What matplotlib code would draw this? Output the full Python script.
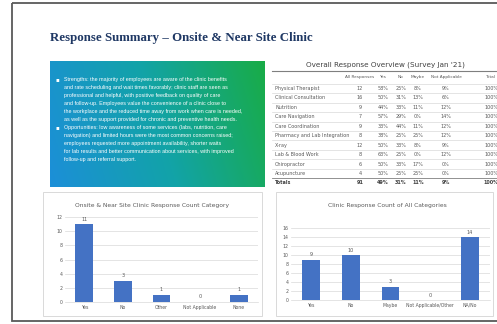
import numpy as np
import matplotlib.pyplot as plt
from matplotlib.colors import LinearSegmentedColormap
from matplotlib.patches import Rectangle

W, H = 497, 324

title = "Response Summary \u2013 Onsite & Near Site Clinic"

bullet_1 = [
    "Strengths: the majority of employees are aware of the clinic benefits",
    "and rate scheduling and wait times favorably; clinic staff are seen as",
    "professional and helpful, with positive feedback on quality of care",
    "and follow-up. Employees value the convenience of a clinic close to",
    "the workplace and the reduced time away from work when care is needed,",
    "as well as the support provided for chronic and preventive health needs.",
]
bullet_2 = [
    "Opportunities: low awareness of some services (labs, nutrition, care",
    "navigation) and limited hours were the most common concerns raised;",
    "employees requested more appointment availability, shorter waits",
    "for lab results and better communication about services, with improved",
    "follow-up and referral support.",
]

table_title = "Overall Response Overview (Survey Jan '21)"
col_heads = ["All Responses", "Yes", "No", "Maybe", "Not Applicable", "Total"]
row_names = ["Physical Therapist", "Clinical Consultation", "Nutrition",
             "Care Navigation", "Care Coordination", "Pharmacy and Lab Integration",
             "X-ray", "Lab & Blood Work", "Chiropractor", "Acupuncture"]
responses = [12, 16, 9, 7, 9, 8, 12, 8, 6, 4]
yes_pct = [58, 50, 44, 57, 33, 38, 50, 63, 50, 50]
no_pct = [25, 31, 33, 29, 44, 25, 33, 25, 33, 25]
maybe_pct = [8, 13, 11, 0, 11, 25, 8, 0, 17, 25]
na_pct = [9, 6, 12, 14, 12, 12, 9, 12, 0, 0]

left_title = "Onsite & Near Site Clinic Response Count Category"
left_cats = ["Yes", "No", "Other", "Not Applicable", "None"]
left_vals = [11, 3, 1, 0, 1]

right_title = "Clinic Response Count of All Categories"
right_cats = ["Yes", "No", "Maybe", "Not Applicable/Other", "NA/No"]
right_vals = [9, 10, 3, 0, 14]

navy = "#1f3864"
grey = "#595959"
bar_col = "#4472c4"


def px(x0, y0, x1, y1):
    return [x0 / W, 1 - y1 / H, (x1 - x0) / W, (y1 - y0) / H]


fig = plt.figure(figsize=(W / 100, H / 100), dpi=100)
bg = fig.add_axes([0, 0, 1, 1])
bg.set_xlim(0, W)
bg.set_ylim(H, 0)
bg.axis("off")

# slide frame
bg.add_patch(Rectangle((12, 3), 520, 318, fill=False, ec=grey, lw=1.3))

bg.text(50, 38, title, family="Liberation Serif", weight="bold", fontsize=9.3,
        color=navy, va="center", ha="left")

# gradient box
cmap = LinearSegmentedColormap.from_list("bg", ["#1c8fd8", "#12a3a8", "#19ac47"])
gx = np.linspace(0, 1, 200)
gy = np.linspace(0, 1, 60)
grad = np.clip(gx[None, :] * 0.85 + (1 - gy[:, None]) * 0.15, 0, 1)
bg.imshow(grad, cmap=cmap, extent=[50, 265, 187, 61], aspect="auto", zorder=1)

y = 80
for block in (bullet_1, bullet_2):
    bg.text(56, y, "\u25aa", color="white", fontsize=4, va="center", zorder=3)
    for line in block:
        bg.text(64, y, line, color="white", fontsize=3.9, family="Liberation Sans",
                va="center", zorder=3)
        y += 8

# table
bg.text(385, 65, table_title, fontsize=5.2, color="#404040", ha="center", va="center")
bg.plot([272, 497], [71, 71], color="#7f7f7f", lw=0.8)
col_x = [360, 383, 401, 418, 446, 491]
for cx, h in zip(col_x, col_heads):
    bg.text(cx, 77, h, fontsize=3.1, color=grey, ha="center", va="center")
row_y0, dy = 88.5, 9.45
for i, name in enumerate(row_names):
    ry = row_y0 + i * dy
    vals = [str(responses[i]), f"{yes_pct[i]}%", f"{no_pct[i]}%",
            f"{maybe_pct[i]}%", f"{na_pct[i]}%", "100%"]
    bg.text(275, ry, name, fontsize=3.5, color=grey, va="center")
    for cx, v in zip(col_x, vals):
        bg.text(cx, ry, v, fontsize=3.5, color=grey, ha="center", va="center")
    bg.plot([272, 497], [ry - dy / 2, ry - dy / 2], color="#d9d9d9", lw=0.5)
tot = sum(responses)
tot_vals = [str(tot)] + [
    f"{round(sum(r * p for r, p in zip(responses, col)) / tot)}%"
    for col in (yes_pct, no_pct, maybe_pct, na_pct)] + ["100%"]
ry = row_y0 + len(row_names) * dy
bg.plot([272, 497], [ry - dy / 2, ry - dy / 2], color="#7f7f7f", lw=0.6)
bg.text(275, ry, "Totals", fontsize=3.5, color="#404040", weight="bold", va="center")
for cx, v in zip(col_x, tot_vals):
    bg.text(cx, ry, v, fontsize=3.5, color="#404040", weight="bold",
            ha="center", va="center")

# chart frames
bg.add_patch(Rectangle((43, 192), 219, 124, fill=False, ec="#d9d9d9", lw=0.7))
bg.add_patch(Rectangle((276, 192), 217, 124, fill=False, ec="#d9d9d9", lw=0.7))
bg.text(152, 205, left_title, fontsize=4.3, color=grey, ha="center", va="center")
bg.text(387, 205, right_title, fontsize=4.3, color=grey, ha="center", va="center")


def bar_chart(rect, cats, vals, top, width):
    ax = fig.add_axes(px(*rect))
    x = np.arange(len(cats))
    ax.bar(x, vals, width=width, color=bar_col, zorder=2)
    for xi, v in zip(x, vals):
        ax.text(xi, v + top * 0.03, str(v), fontsize=3.5, color=grey,
                ha="center", va="bottom")
    ax.set_xlim(-0.5, len(cats) - 0.5)
    ax.set_ylim(0, top)
    ax.set_yticks(np.arange(0, top + 1, 2))
    ax.set_xticks(x)
    ax.set_xticklabels(cats)
    ax.tick_params(labelsize=3.3, colors=grey, length=0, pad=2)
    ax.grid(axis="y", color="#d9d9d9", lw=0.5, zorder=0)
    for s in ("top", "right", "left"):
        ax.spines[s].set_visible(False)
    ax.spines["bottom"].set_color("#d9d9d9")
    ax.spines["bottom"].set_linewidth(0.5)
    ax.patch.set_alpha(0)
    return ax


bar_chart((65, 217, 258, 302), left_cats, left_vals, 12, 0.46)
bar_chart((291, 228, 490, 300), right_cats, right_vals, 16, 0.45)

fig.savefig("out.png", dpi=100)
